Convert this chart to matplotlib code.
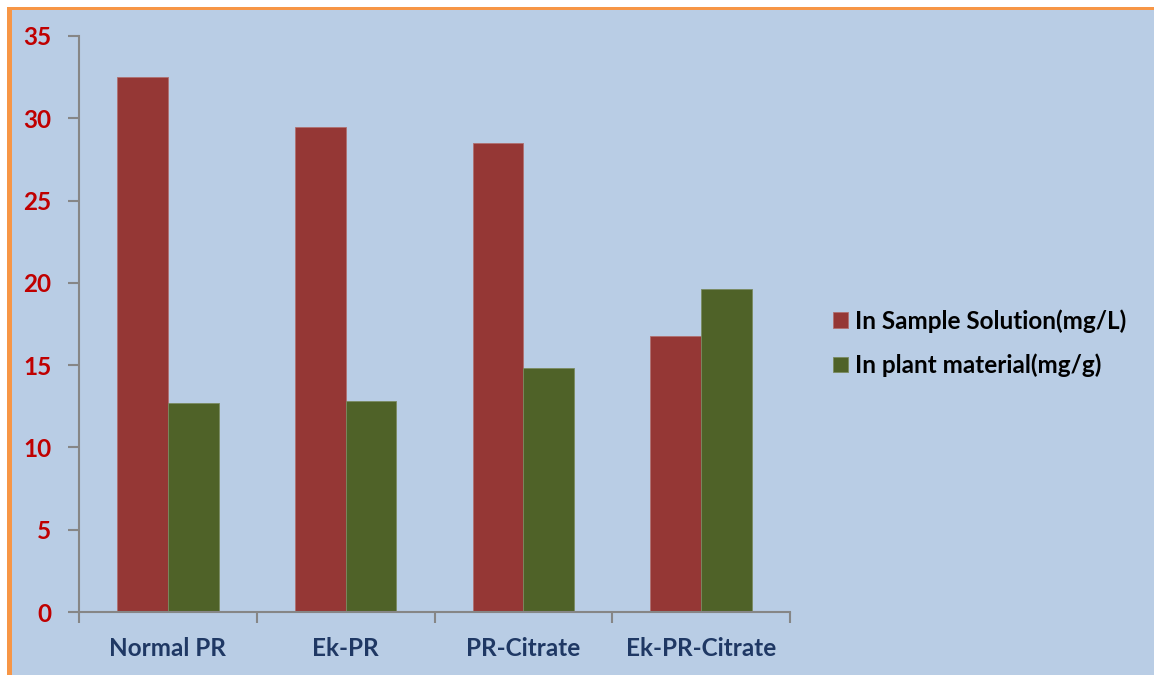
import numpy as np
import matplotlib.pyplot as plt
from matplotlib.patches import Rectangle

# treatments and the two measured series
categories = ['Normal PR', 'Ek-PR', 'PR-Citrate', 'Ek-PR-Citrate']
solution = [32.5, 29.5, 28.5, 16.8]   # mg/L in sample solution
plant = [12.7, 12.8, 14.8, 19.6]      # mg/g in plant material
yticks = [0, 5, 10, 15, 20, 25, 30, 35]

red = '#953735'
green = '#4F6228'
bg = '#B9CDE5'
orange = '#F79646'

fig = plt.figure(figsize=(11.54, 6.75), dpi=100, facecolor='white')

# blue chart area with the orange frame on the top and left
W, H = 1154, 675
fig.patches.append(Rectangle((12 / W, -0.1), 2, 1.1 - 10 / H, transform=fig.transFigure,
                             facecolor=bg, edgecolor='none', zorder=-2))
fig.patches.append(Rectangle((7 / W, -0.1), 5 / W, 1.1 - 7 / H, transform=fig.transFigure,
                             facecolor=orange, edgecolor='none', zorder=-1))
fig.patches.append(Rectangle((7 / W, 1 - 10 / H), 2, 3 / H, transform=fig.transFigure,
                             facecolor=orange, edgecolor='none', zorder=-1))

ax = fig.add_axes([79 / W, 1 - 612 / H, (790 - 79) / W, (612 - 36) / H])
ax.set_facecolor('none')
ax.set_zorder(2)

x = np.arange(len(categories))
w = 1 / 3.5
ax.bar(x - w / 2, solution, w, color=red, edgecolor='#B07070', linewidth=0.6,
       label='In Sample Solution(mg/L)')
ax.bar(x + w / 2, plant, w, color=green, edgecolor='#7A8A60', linewidth=0.6,
       label='In plant material(mg/g)')

ax.set_xlim(-0.5, len(categories) - 0.5)
ax.set_ylim(0, 35)

for s in ['top', 'right']:
    ax.spines[s].set_visible(False)
for s in ['left', 'bottom']:
    ax.spines[s].set_color('#868686')
    ax.spines[s].set_linewidth(1.5)

ax.set_yticks(yticks)
ax.set_yticklabels([str(v) for v in yticks], color='#C00000', fontweight='bold',
                   fontsize=17.5, family='Lato')
ax.tick_params(axis='y', length=8, width=1.5, color='#868686', pad=12)

ax.set_xticks(x)
ax.set_xticklabels(categories, color='#1F3864', fontweight='bold',
                   fontsize=17.5, family='Lato')
ax.tick_params(axis='x', which='major', length=0, pad=18)
ax.set_xticks(np.arange(-0.5, len(categories)), minor=True)
ax.tick_params(axis='x', which='minor', length=8, width=1.5, color='#868686')

leg = ax.legend(loc='center left', bbox_to_anchor=(1.06, 0.467), frameon=False,
                prop={'family': 'Lato', 'weight': 'bold', 'size': 17.5},
                handlelength=0.62, handleheight=0.62, handletextpad=0.3,
                labelspacing=0.85, borderaxespad=0, borderpad=0)

plt.savefig('out.png', dpi=100, facecolor='white')
